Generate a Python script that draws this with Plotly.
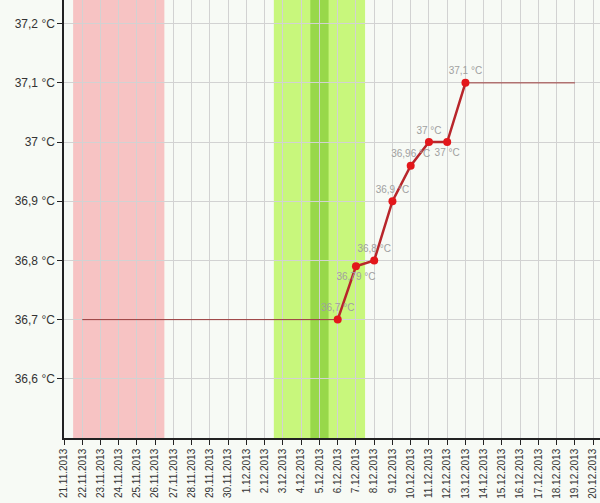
import plotly.graph_objects as go

# measured temperatures
dates = ["2013-12-06", "2013-12-07", "2013-12-08", "2013-12-09", "2013-12-10",
         "2013-12-11", "2013-12-12", "2013-12-13"]
temps = [36.7, 36.79, 36.8, 36.9, 36.96, 37.0, 37.0, 37.1]
label_pos = ["top center", "bottom center", "top center", "top center", "top center",
             "top center", "bottom center", "top center"]

# flat guide lines before/after the measurements
lead_dates = ["2013-11-22", "2013-12-06"]
lead_temps = [36.7, 36.7]
tail_dates = ["2013-12-13", "2013-12-19"]
tail_temps = [37.1, 37.1]

# coloured periods (start, end)
pink_period = ("2013-11-21 12:00", "2013-11-26 12:00")
green_period = ("2013-12-02 12:00", "2013-12-07 12:00")
dark_green_period = ("2013-12-04 12:00", "2013-12-05 12:00")

y_ticks = [36.6, 36.7, 36.8, 36.9, 37.0, 37.1, 37.2]
y_ticktext = ["36,6 °C", "36,7 °C", "36,8 °C", "36,9 °C", "37 °C", "37,1 °C", "37,2 °C"]


def fmt(v):
    s = ("%.2f" % v).rstrip("0").rstrip(".")
    return s.replace(".", ",") + " °C"


fig = go.Figure()

fig.add_trace(go.Scatter(x=lead_dates, y=lead_temps, mode="lines",
                         line=dict(color="#9b3a3a", width=1), hoverinfo="skip"))
fig.add_trace(go.Scatter(x=tail_dates, y=tail_temps, mode="lines",
                         line=dict(color="#9b3a3a", width=1), hoverinfo="skip"))
fig.add_trace(go.Scatter(x=dates, y=temps, mode="lines+markers+text",
                         line=dict(color="#b8262b", width=2.5),
                         marker=dict(color="#e3171b", size=8),
                         text=[fmt(t) for t in temps], textposition=label_pos,
                         textfont=dict(color="#a0a0a0", size=10), cliponaxis=False))

for (x0, x1), col in [(pink_period, "#f7c3c3"), (green_period, "#c8f77c"),
                      (dark_green_period, "#98d84a")]:
    fig.add_shape(type="rect", xref="x", yref="paper", x0=x0, x1=x1, y0=0, y1=1,
                  fillcolor=col, line_width=0, layer="below")

fig.update_layout(
    width=600, height=503,
    margin=dict(l=64, r=0, t=0, b=65, autoexpand=False),
    paper_bgcolor="#f7faf5", plot_bgcolor="#f7faf5",
    showlegend=False,
    font=dict(family="Liberation Sans, Arial, sans-serif", color="#333"),
)
fig.update_xaxes(
    type="date", range=["2013-11-21", "2013-12-20 09:00"], automargin=False,
    tick0="2013-11-21", dtick=86400000, tickformat="%-d.%m.%Y", tickangle=-90,
    tickfont=dict(size=10, color="#333"),
    showgrid=True, gridcolor="#d2d2d2", gridwidth=1,
    showline=True, linecolor="#222", linewidth=1.5,
    ticks="outside", ticklen=5, tickcolor="#222", zeroline=False,
)
fig.update_yaxes(
    range=[36.5, 37.24], tickvals=y_ticks, ticktext=y_ticktext, automargin=False,
    tickfont=dict(size=12, color="#333"),
    showgrid=True, gridcolor="#d2d2d2", gridwidth=1,
    showline=True, linecolor="#222", linewidth=1.5,
    ticks="outside", ticklen=5, tickcolor="#222", zeroline=False,
)

# page body has a default 8px margin; drop it so the figure fills the window
fig.write_html("out.html", post_script="document.body.style.margin='0px';",
               config={"displayModeBar": False})
